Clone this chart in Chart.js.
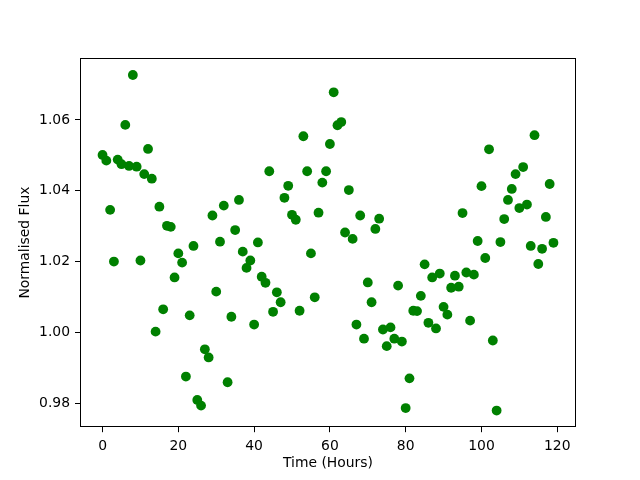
<!DOCTYPE html>
<html>
<head>
<meta charset="utf-8">
<script src="https://cdn.jsdelivr.net/npm/chart.js@4/dist/chart.umd.min.js"></script>
<style>
  body { margin: 0; background: #fff; }
  canvas { display: block; }
</style>
</head>
<body>
<canvas id="fluxChart" width="640" height="480"></canvas>
<script>
const hours = [
  0, 1, 2, 3, 4, 5, 6, 7, 8, 9, 10, 11, 12, 13, 14, 15, 16, 17, 18, 19,
  20, 21, 22, 23, 24, 25, 26, 27, 28, 29, 30, 31, 32, 33, 34, 35, 36, 37, 38, 39,
  40, 41, 42, 43, 44, 45, 46, 47, 48, 49, 50, 51, 52, 53, 54, 55, 56, 57, 58, 59,
  60, 61, 62, 63, 64, 65, 66, 67, 68, 69, 70, 71, 72, 73, 74, 75, 76, 77, 78, 79,
  80, 81, 82, 83, 84, 85, 86, 87, 88, 89, 90, 91, 92, 93, 94, 95, 96, 97, 98, 99,
  100, 101, 102, 103, 104, 105, 106, 107, 108, 109, 110, 111, 112, 113, 114, 115, 116, 117, 118, 119
];

const flux = [
  1.0501, 1.0485, 1.0346, 1.0200, 1.0488, 1.0475, 1.0586, 1.0470, 1.0727, 1.0468,
  1.0203, 1.0447, 1.0518, 1.0434, 1.0002, 1.0355, 1.0065, 1.0301, 1.0298, 1.0155,
  1.0223, 1.0197, 0.9875, 1.0048, 1.0244, 0.9809, 0.9793, 0.9952, 0.9929, 1.0330,
  1.0115, 1.0256, 1.0358, 0.9859, 1.0044, 1.0289, 1.0374, 1.0228, 1.0182, 1.0203,
  1.0022, 1.0254, 1.0157, 1.0140, 1.0455, 1.0058, 1.0113, 1.0085, 1.0380, 1.0414,
  1.0332, 1.0318, 1.0061, 1.0554, 1.0455, 1.0223, 1.0099, 1.0338, 1.0423, 1.0455,
  1.0532, 1.0678, 1.0585, 1.0594, 1.0282, 1.0402, 1.0264, 1.0022, 1.0330, 0.9982,
  1.0141, 1.0085, 1.0292, 1.0321, 1.0008, 0.9961, 1.0014, 0.9982, 1.0132, 0.9974,
  0.9786, 0.9870, 1.0061, 1.0060, 1.0103, 1.0192, 1.0027, 1.0155, 1.0011, 1.0166,
  1.0072, 1.0050, 1.0126, 1.0160, 1.0129, 1.0337, 1.0169, 1.0033, 1.0163, 1.0258,
  1.0413, 1.0210, 1.0517, 0.9977, 0.9779, 1.0255, 1.0320, 1.0374, 1.0405, 1.0447,
  1.0351, 1.0467, 1.0361, 1.0244, 1.0557, 1.0193, 1.0236, 1.0326, 1.0419, 1.0253
];

const xTicks = [0, 20, 40, 60, 80, 100, 120];
const yTicks = [0.98, 1.00, 1.02, 1.04, 1.06];

const points = [];
for (let i = 0; i < hours.length; i++) {
  points.push({ x: hours[i], y: flux[i] });
}

// matplotlib style box round the plot area
const boxPlugin = {
  id: 'box',
  afterDraw(chart) {
    const a = chart.chartArea;
    const ctx = chart.ctx;
    ctx.save();
    ctx.strokeStyle = '#000';
    ctx.lineWidth = 1;
    ctx.strokeRect(Math.round(a.left) + 0.5, Math.round(a.top) + 0.5,
      Math.round(a.right - a.left) - 1, Math.round(a.bottom - a.top) - 1);
    ctx.restore();
  }
};

const tickFont = { family: 'DejaVu Sans', size: 13.9 };

new Chart(document.getElementById('fluxChart'), {
  type: 'scatter',
  data: {
    datasets: [{
      data: points,
      backgroundColor: '#008000',
      borderWidth: 0,
      pointRadius: 4.9,
      pointHoverRadius: 4.9
    }]
  },
  options: {
    responsive: false,
    animation: false,
    events: [],
    layout: { padding: { top: 58, right: 64, left: 0, bottom: 0 } },
    plugins: { legend: { display: false }, tooltip: { enabled: false } },
    scales: {
      x: {
        type: 'linear',
        min: -5.95,
        max: 124.95,
        afterBuildTicks: s => { s.ticks = xTicks.map(v => ({ value: v })); },
        afterFit: s => { s.height = 52.8; },
        grid: { display: true, drawOnChartArea: false, drawTicks: true, tickLength: 5, tickColor: '#000' },
        border: { display: false },
        ticks: { color: '#000', font: tickFont, padding: 6, maxRotation: 0, callback: v => String(v) },
        title: { display: true, text: 'Time (Hours)', color: '#000', font: tickFont, padding: { top: 0, bottom: 8.6 } }
      },
      y: {
        type: 'linear',
        min: 0.9732,
        max: 1.0775,
        afterBuildTicks: s => { s.ticks = yTicks.map(v => ({ value: v })); },
        afterFit: s => { s.width = 80; },
        grid: { display: true, drawOnChartArea: false, drawTicks: true, tickLength: 5, tickColor: '#000' },
        border: { display: false },
        ticks: { color: '#000', font: tickFont, padding: 5, callback: v => v.toFixed(2) },
        title: { display: true, text: 'Normalised Flux', color: '#000', font: tickFont, padding: { top: 16.6, bottom: 0 } }
      }
    }
  },
  plugins: [boxPlugin]
});
</script>
</body>
</html>
